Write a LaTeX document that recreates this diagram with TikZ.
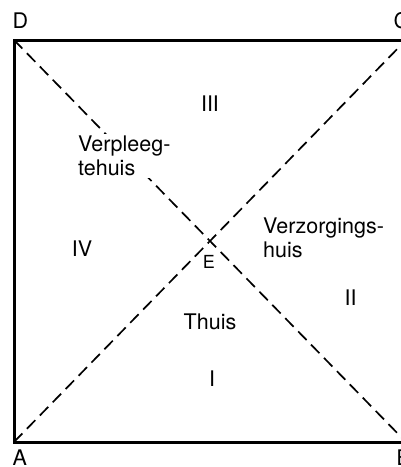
\documentclass[tikz,border=0pt]{standalone}
\usepackage{fontspec}
\setmainfont{TeX Gyre Heros}
\begin{document}
\begin{tikzpicture}[x=1pt,y=-1pt,
  lbl/.style={font=\fontsize{21.5}{24.5}\selectfont, inner sep=0pt},
  small/.style={font=\fontsize{18}{20}\selectfont, inner sep=0pt},
  border/.style={line width=3pt},
  diag/.style={line width=1.7pt, dash pattern=on 12pt off 6.5pt}]
\useasboundingbox (0,0) rectangle (401,467);
\coordinate (A) at (14,442);
\coordinate (B) at (406,442);
\coordinate (C) at (406,40);
\coordinate (D) at (14,40);
\draw[border] (A) -- (B) -- (C) -- (D) -- cycle;
\draw[diag] (A) -- (C);
\draw[diag] (D) -- (B);
\node[lbl, anchor=base west] (lD) at (12.5,28) {D};
\node[lbl, anchor=base west] (lC) at (393.5,28) {C};
\node[lbl, anchor=base west] (lA) at (12.5,465) {A};
\node[lbl, anchor=base west] (lB) at (396.5,465) {B};
\node[small, anchor=base, fill=white, inner sep=1pt] (lE) at (209,268.5) {E};
\node[lbl, anchor=base] (r3) at (210,111) {III};
\node[lbl, anchor=base] (r2) at (350.5,305) {II};
\node[lbl, anchor=base] (r4) at (82,256) {IV};
\node[lbl, anchor=base] (r1) at (212,386) {I};
\node[lbl, anchor=base] (thuis) at (210,329) {Thuis};
\node[lbl, anchor=north west, align=left, fill=white, inner sep=2pt] (verpl) at (76,133.5) {Verpleeg-\\tehuis};
\node[lbl, anchor=north west, align=left] (verz) at (263,217.5) {Verzorgings-\\huis};
\end{tikzpicture}
\end{document}
